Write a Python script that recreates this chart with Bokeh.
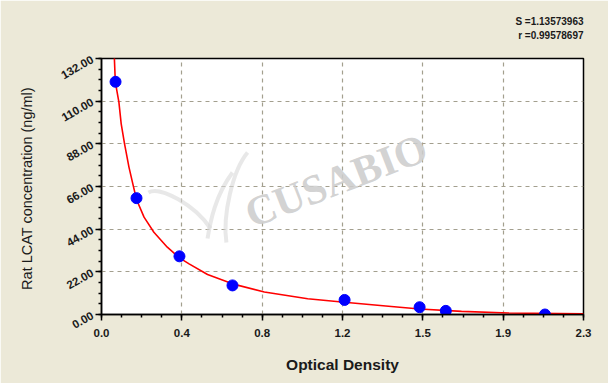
import math
from bokeh.plotting import figure
from bokeh.models import FixedTicker, Label, PrintfTickFormatter, Title, LinearAxis
from bokeh.embed import file_html
from bokeh.resources import INLINE

# ---- data ----
od_points = [0.067, 0.167, 0.372, 0.625, 1.160, 1.518, 1.643, 2.116]
conc_points = [120.0, 60.0, 30.0, 15.0, 7.5, 3.75, 1.875, 0.0]

curve_od = [0.059, 0.066, 0.083, 0.094, 0.110, 0.131, 0.152, 0.167, 0.203,
            0.250, 0.314, 0.372, 0.418, 0.506, 0.625, 0.777, 0.984, 1.159,
            1.383, 1.518, 1.718, 1.941, 2.300]
conc_curve = [138.7, 119.8, 109.5, 98.3, 88.0, 76.0, 66.2, 59.3, 50.2,
              42.4, 34.7, 29.2, 26.1, 20.6, 15.8, 11.6, 8.1, 6.3,
              4.1, 2.8, 1.6, 0.8, 0.3]

x_tick_labels = ["0.0", "0.4", "0.8", "1.2", "1.5", "1.9", "2.3"]
y_ticks = [0, 22, 44, 66, 88, 110, 132]
stat_s = "S =1.13573963"
stat_r = "r =0.99578697"
x_title = "Optical Density"
y_title = "Rat  LCAT concentration (ng/ml)"

x_max = 2.3
y_max = 132
n_x = len(x_tick_labels) - 1
x_ticks = [x_max * i / n_x for i in range(n_x + 1)]
x_minor = [x_max * i / (n_x * 4) for i in range(n_x * 4 + 1)]
y_minor = [5.5 * i for i in range(0, 25)]

BG = "#ECE9D8"
TXT = "#1a1a1a"

p = figure(width=608, height=383, x_range=(0, x_max), y_range=(0, y_max),
           output_backend="svg", toolbar_location=None, y_axis_location=None,
           min_border_left=101, min_border_right=25, min_border_top=58,
           min_border_bottom=69)
p.border_fill_color = BG
p.background_fill_color = "white"
p.outline_line_color = "black"
p.outline_line_width = 1.5

yax = LinearAxis(ticker=FixedTicker(ticks=y_ticks, minor_ticks=y_minor),
                 formatter=PrintfTickFormatter(format="%.2f"),
                 major_label_orientation=0.52)
p.add_layout(yax, "left")

p.xaxis.ticker = FixedTicker(ticks=x_ticks, minor_ticks=x_minor)
p.xaxis.major_label_overrides = {t: l for t, l in zip(x_ticks, x_tick_labels)}

for ax in (p.xaxis[0], yax):
    ax.axis_line_color = "black"
    ax.axis_line_width = 1.5
    ax.major_tick_in = 0
    ax.major_tick_out = 6
    ax.minor_tick_in = 0
    ax.minor_tick_out = 3
    ax.major_tick_line_color = "black"
    ax.minor_tick_line_color = "black"
    ax.major_tick_line_width = 1.5
    ax.minor_tick_line_width = 1.5
    ax.major_label_text_font = "Liberation Sans"
    ax.major_label_text_font_style = "bold"
    ax.major_label_text_font_size = "11.5px"
    ax.major_label_text_color = TXT
    ax.axis_label_text_font = "Liberation Sans"
    ax.axis_label_text_font_style = "bold"
    ax.axis_label_text_color = TXT

xa = p.xaxis[0]
xa.axis_label = x_title
xa.axis_label_text_font_size = "15.5px"
xa.axis_label_standoff = 16
xa.major_label_standoff = 8
yax.axis_label = y_title
yax.axis_label_text_font_style = "normal"
yax.axis_label_text_font_size = "14.5px"
yax.axis_label_standoff = 20
yax.major_label_standoff = 3

# grid
p.xgrid.ticker = FixedTicker(ticks=x_ticks)
p.ygrid.ticker = FixedTicker(ticks=y_ticks)
for g in (p.xgrid, p.ygrid):
    g.grid_line_color = "#A39F8E"
    g.grid_line_dash = "4 4"
    g.grid_line_width = 1.2

# watermark (logo strokes + text)
p.bezier(x0=[0.697, 0.625, 0.224], y0=[83.5, 73.2, 62.9],
         x1=[0.596, 0.506, 0.520], y1=[37.1, 39.2, 44.4],
         cx0=[0.626, 0.544, 0.281], cy0=[74.3, 61.4, 66.5],
         cx1=[0.577, 0.520, 0.448], cy1=[51.1, 48.5, 56.2],
         line_color="#D8D8D8", line_width=4, line_alpha=0.6)
p.add_layout(Label(x=1.12, y=69, text="CUSABIO", angle=0.37,
                   text_align="center", text_baseline="middle",
                   text_font="Liberation Serif", text_font_size="42px",
                   text_font_style="bold",
                   text_color="#CDCDCD", text_alpha=0.9))

# curve + points
p.line(curve_od, conc_curve, line_color="#FF0000", line_width=1.6)
p.scatter(od_points, conc_points, size=11, fill_color="#0000FF",
          line_color="#0000FF")

# stats text (above the frame, right aligned)
p.add_layout(Title(text=" ", text_font_size="13px", standoff=0), "above")
p.add_layout(Title(text=stat_r, align="right", text_font="Liberation Sans",
                   text_font_size="10px", text_font_style="bold",
                   text_color=TXT, standoff=1), "above")
p.add_layout(Title(text=stat_s, align="right", text_font="Liberation Sans",
                   text_font_size="10px", text_font_style="bold",
                   text_color=TXT, standoff=1), "above")

open("out.html", "w").write(file_html(p, INLINE))
